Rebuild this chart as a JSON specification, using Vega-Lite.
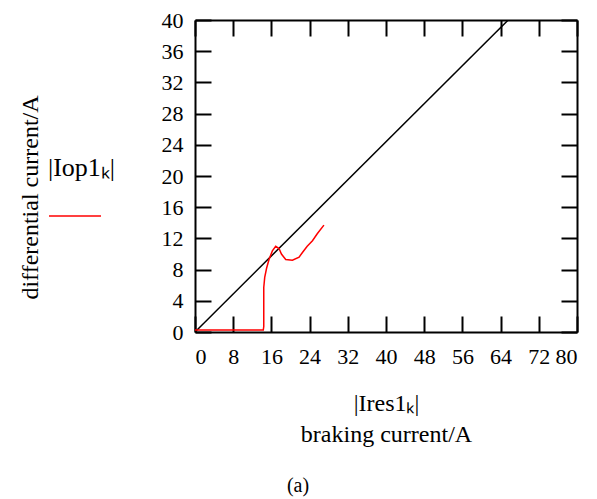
{
  "$schema": "https://vega.github.io/schema/vega-lite/v6.json",
  "width": 382,
  "height": 312,
  "autosize": {"type": "none"},
  "padding": {"left": 195, "top": 20, "right": 20, "bottom": 167},
  "background": "white",
  "config": {
    "font": "Liberation Serif",
    "view": {"stroke": null},
    "axis": {
      "domainColor": "black",
      "domainWidth": 2,
      "tickColor": "black",
      "tickWidth": 2,
      "tickSize": -16,
      "grid": false,
      "labelFont": "Liberation Serif",
      "labelFontSize": 22,
      "labelColor": "black",
      "titleFont": "Liberation Serif",
      "titleFontSize": 24,
      "titleFontWeight": "normal",
      "titleColor": "black"
    },
    "legend": {
      "titleFont": "Liberation Serif",
      "titleFontSize": 24,
      "titleFontWeight": "normal",
      "titleColor": "black"
    }
  },
  "data": {
    "values": [
      {"s": "ref", "i": 0, "x": 0, "y": 0},
      {"s": "ref", "i": 1, "x": 65.6, "y": 40},
      {"s": "Iop1", "i": 0, "x": 0, "y": 0.25},
      {"s": "Iop1", "i": 1, "x": 14.3, "y": 0.25},
      {"s": "Iop1", "i": 2, "x": 14.4, "y": 0.7},
      {"s": "Iop1", "i": 3, "x": 14.4, "y": 5.7},
      {"s": "Iop1", "i": 4, "x": 14.6, "y": 7.0},
      {"s": "Iop1", "i": 5, "x": 15.0, "y": 8.2},
      {"s": "Iop1", "i": 6, "x": 15.5, "y": 9.3},
      {"s": "Iop1", "i": 7, "x": 16.2, "y": 10.4},
      {"s": "Iop1", "i": 8, "x": 16.9, "y": 11.0},
      {"s": "Iop1", "i": 9, "x": 17.6, "y": 10.7},
      {"s": "Iop1", "i": 10, "x": 18.1, "y": 10.0},
      {"s": "Iop1", "i": 11, "x": 19.0, "y": 9.3},
      {"s": "Iop1", "i": 12, "x": 20.4, "y": 9.2},
      {"s": "Iop1", "i": 13, "x": 21.8, "y": 9.6},
      {"s": "Iop1", "i": 14, "x": 22.5, "y": 10.2},
      {"s": "Iop1", "i": 15, "x": 23.5, "y": 11.0},
      {"s": "Iop1", "i": 16, "x": 24.6, "y": 11.7},
      {"s": "Iop1", "i": 17, "x": 25.6, "y": 12.6},
      {"s": "Iop1", "i": 18, "x": 27.0, "y": 13.7}
    ]
  },
  "layer": [
    {
      "mark": {"type": "line", "strokeWidth": 1.5, "clip": true},
      "encoding": {
        "x": {
          "field": "x", "type": "quantitative",
          "scale": {"domain": [0, 80], "nice": false, "zero": false},
          "axis": {
            "orient": "bottom",
            "values": [0, 8, 16, 24, 32, 40, 48, 56, 64, 72, 80],
            "labelPadding": 30,
            "title": ["|Ires1ₖ|", "braking current/A"],
            "titlePadding": 24,
            "titleLineHeight": 31
          }
        },
        "y": {
          "field": "y", "type": "quantitative",
          "scale": {"domain": [0, 40], "nice": false, "zero": false},
          "axis": {
            "orient": "left",
            "values": [0, 4, 8, 12, 16, 20, 24, 28, 32, 36, 40],
            "labelPadding": 28,
            "title": "differential current/A",
            "titleX": -165,
            "titleY": 177,
            "titleAngle": -90,
            "titleAlign": "center",
            "titleBaseline": "middle"
          }
        },
        "color": {
          "field": "s", "type": "nominal",
          "scale": {"domain": ["ref", "Iop1"], "range": ["black", "red"]},
          "legend": {
            "orient": "none",
            "legendX": -147,
            "legendY": 135,
            "values": ["Iop1"],
            "title": "|Iop1ₖ|",
            "titleFontSize": 26,
            "titlePadding": 8,
            "symbolType": "stroke",
            "symbolSize": 2700,
            "symbolStrokeWidth": 2,
            "labelExpr": "''"
          }
        },
        "strokeWidth": {
          "field": "s", "type": "nominal",
          "scale": {"domain": ["ref", "Iop1"], "range": [1, 1.5]},
          "legend": null
        },
        "order": {"field": "i", "type": "quantitative"}
      }
    },
    {
      "mark": {"type": "point", "opacity": 0},
      "encoding": {
        "x": {
          "field": "x", "type": "quantitative",
          "axis": {"orient": "top", "values": [0, 8, 16, 24, 32, 40, 48, 56, 64, 72, 80], "labels": false, "title": null}
        },
        "y": {
          "field": "y", "type": "quantitative",
          "axis": {"orient": "right", "values": [0, 4, 8, 12, 16, 20, 24, 28, 32, 36, 40], "labels": false, "title": null}
        }
      }
    }
  ],
  "resolve": {"axis": {"x": "independent", "y": "independent"}},
  "title": {
    "text": "(a)",
    "orient": "bottom",
    "font": "Liberation Serif",
    "fontSize": 20,
    "fontWeight": "normal",
    "color": "black",
    "offset": 30,
    "dx": -88
  }
}
